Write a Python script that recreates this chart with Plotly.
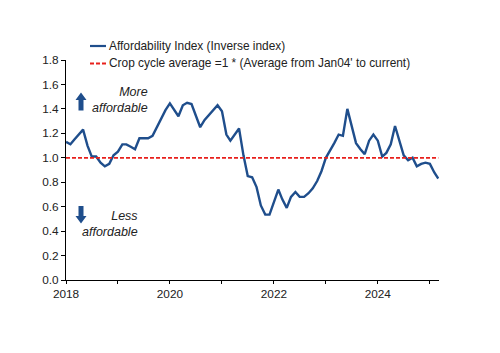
import plotly.graph_objects as go
import pandas as pd

# ---- data ----
dates = pd.date_range("2018-01-01", "2025-03-01", freq="MS")
affordability = [
    1.13, 1.11, 1.15, 1.19, 1.23, 1.10, 1.01, 1.01, 0.96, 0.93, 0.95, 1.02,
    1.05, 1.11, 1.11, 1.09, 1.07, 1.16, 1.16, 1.16, 1.18, 1.25, 1.31, 1.39,
    1.445, 1.39, 1.34, 1.43, 1.45, 1.44, 1.35, 1.25, 1.31, 1.35, 1.39, 1.43,
    1.38, 1.19, 1.14, 1.19, 1.24, 1.02, 0.85, 0.84, 0.76, 0.61, 0.535, 0.535,
    0.64, 0.74, 0.66, 0.59, 0.68, 0.72, 0.68, 0.68, 0.71, 0.75, 0.81, 0.89,
    1.00, 1.07, 1.12, 1.19, 1.18, 1.40, 1.27, 1.12, 1.07, 1.03, 1.14, 1.19,
    1.14, 1.01, 1.04, 1.11, 1.26, 1.13, 1.02, 0.98, 1.00, 0.93, 0.95, 0.96,
    0.95, 0.88, 0.83,
]
crop_cycle_avg = [1.0] * len(affordability)
series_names = ["Affordability Index (Inverse index)",
                "Crop cycle average =1 * (Average from Jan04' to current)"]
x_tick_labels = ["2018", "2019", "2020", "2021", "2022", "2023", "2024", "2025"]
y_ticks = [0.0, 0.2, 0.4, 0.6, 0.8, 1.0, 1.2, 1.4, 1.6, 1.8]

BLUE = "#1f4e8c"
RED = "#e8201c"
FONT = "Liberation Sans"
DASH = "4px,2px"

W, H = 500, 353
L, R, T, B = 66, 61, 60, 73
PW, PH = W - L - R, H - T - B


def px(x):
    return (x - L) / PW


def py(y):
    return (H - B - y) / PH


fig = go.Figure()
fig.add_trace(go.Scatter(x=dates, y=affordability, mode="lines",
                         line=dict(color=BLUE, width=2.4), name=series_names[0],
                         showlegend=False))
fig.add_trace(go.Scatter(x=dates, y=crop_cycle_avg, mode="lines",
                         line=dict(color=RED, width=1.8, dash=DASH),
                         name=series_names[1], showlegend=False))

shapes = []
annotations = []
# manual legend
for i, (name, col, dash) in enumerate([(series_names[0], BLUE, "solid"),
                                        (series_names[1], RED, DASH)]):
    yy = 46 + i * 17.5
    shapes.append(dict(type="line", xref="paper", yref="paper",
                       x0=px(90), x1=px(106), y0=py(yy), y1=py(yy),
                       line=dict(color=col, width=2.2 if i == 0 else 1.8, dash=dash)))
    annotations.append(dict(xref="paper", yref="paper", x=px(107), y=py(yy),
                            text=name, showarrow=False, xanchor="left",
                            yanchor="middle",
                            font=dict(family=FONT, size=11.9, color="#222")))


def arrow(cx, ytip, ybase_head, yend):
    hw, sw = 5.5, 2.5
    return ("M {a},{b} L {c},{d} L {e},{d} L {e},{f} L {g},{f} L {g},{d} L {h},{d} Z".format(
        a=px(cx), b=py(ytip), c=px(cx - hw), d=py(ybase_head), e=px(cx - sw),
        f=py(yend), g=px(cx + sw), h=px(cx + hw)))


shapes.append(dict(type="path", xref="paper", yref="paper",
                   path=arrow(81, 92.5, 100, 110.5), fillcolor=BLUE,
                   line=dict(width=0)))
shapes.append(dict(type="path", xref="paper", yref="paper",
                   path=arrow(81, 223.5, 216, 206), fillcolor=BLUE,
                   line=dict(width=0)))

annotations.append(dict(xref="paper", yref="paper", x=px(150), y=py(100),
                        text="<i>More<br>affordable</i>", showarrow=False,
                        xanchor="right", yanchor="middle", align="right",
                        font=dict(family=FONT, size=12.5, color="#222")))
annotations.append(dict(xref="paper", yref="paper", x=px(140), y=py(224),
                        text="<i>Less<br>affordable</i>", showarrow=False,
                        xanchor="right", yanchor="middle", align="right",
                        font=dict(family=FONT, size=12.5, color="#222")))

fig.update_layout(
    width=W, height=H,
    margin=dict(l=L, r=R, t=T, b=B, pad=0),
    paper_bgcolor="white", plot_bgcolor="white",
    shapes=shapes, annotations=annotations,
    showlegend=False,
    font=dict(family=FONT, size=11, color="#222"),
)
fig.update_xaxes(
    range=["2018-01-01", "2025-03-06"],
    tickvals=[f"{y}-01-01" for y in x_tick_labels],
    ticktext=[y if int(y) % 2 == 0 else "" for y in x_tick_labels],
    ticks="outside", ticklen=3, tickcolor="black", tickwidth=1,
    showline=True, linecolor="black", linewidth=1,
    showgrid=False, zeroline=False,
    tickfont=dict(family=FONT, size=11.8, color="#222"),
)
fig.update_yaxes(
    range=[0, 1.8], tickvals=y_ticks, tickformat=".1f",
    ticks="outside", ticklen=4, tickcolor="black", tickwidth=1,
    showline=True, linecolor="black", linewidth=1,
    showgrid=False, zeroline=False,
    tickfont=dict(family=FONT, size=11.8, color="#222"),
)

fig.write_html("out.html")
